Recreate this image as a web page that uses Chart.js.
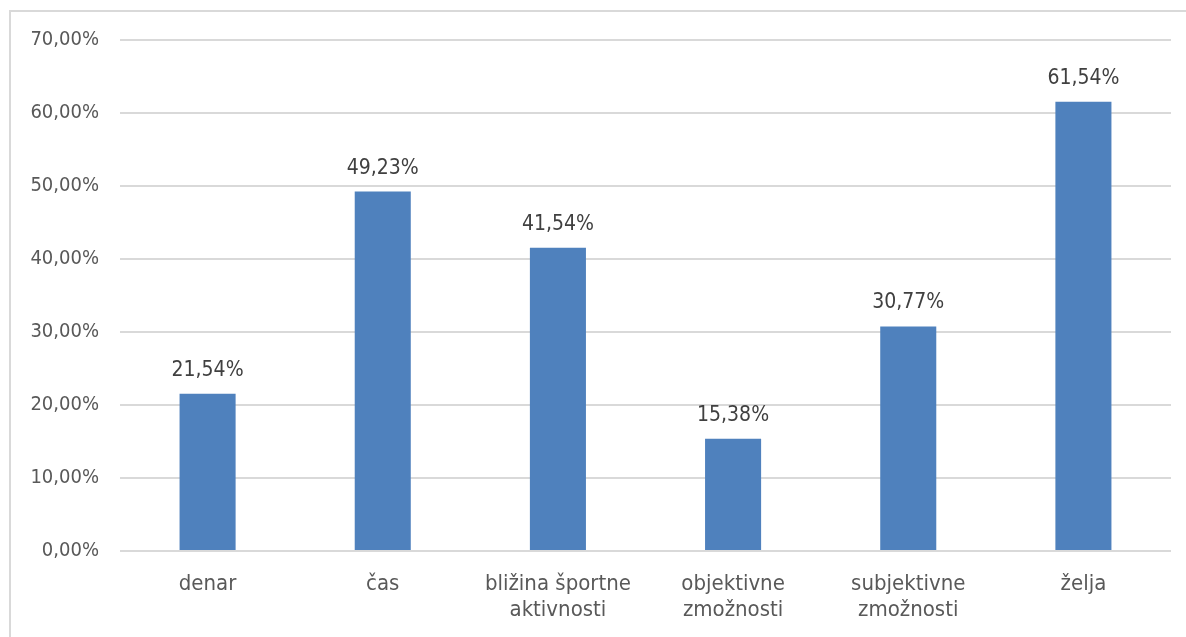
<!DOCTYPE html>
<html>
<head>
<meta charset="utf-8">
<script src="https://cdn.jsdelivr.net/npm/chart.js@4/dist/chart.umd.min.js"></script>
<style>
  html, body { margin: 0; padding: 0; background: #fff; overflow: hidden; width: 1186px; height: 637px; }
  #frame {
    position: absolute; left: 9px; top: 10px;
    width: 1177px; height: 627px;
    border-left: 2px solid #d9d9d9; border-top: 2px solid #d9d9d9;
    box-sizing: border-box;
  }
  #wrap { position: absolute; left: 0; top: 0; width: 1186px; height: 637px; }
</style>
</head>
<body>
<div id="frame"></div>
<div id="wrap"><canvas id="razlogi"></canvas></div>
<script>
const categories = [
  "denar",
  "čas",
  ["bližina športne", "aktivnosti"],
  ["objektivne", "zmožnosti"],
  ["subjektivne", "zmožnosti"],
  "želja"
];
const shares = [21.54, 49.23, 41.54, 15.38, 30.77, 61.54];
const yTicks = [0, 10, 20, 30, 40, 50, 60, 70];

const FONT = "'DejaVu Sans Condensed', 'DejaVu Sans'";

function fmtPct(v) {
  return v.toFixed(2).replace(".", ",") + "%";
}

// vrednosti nad stolpci
const valueLabels = {
  id: "valueLabels",
  afterDatasetsDraw(chart) {
    const ctx = chart.ctx;
    const meta = chart.getDatasetMeta(0);
    ctx.save();
    ctx.font = "21px " + FONT;
    ctx.fillStyle = "#404040";
    ctx.textAlign = "center";
    ctx.textBaseline = "alphabetic";
    meta.data.forEach((bar, i) => {
      ctx.fillText(fmtPct(shares[i]), bar.x, bar.y - 18);
    });
    ctx.restore();
  }
};

new Chart(document.getElementById("razlogi"), {
  type: "bar",
  data: {
    labels: categories,
    datasets: [{
      data: shares,
      backgroundColor: "#4f81bd",
      borderWidth: 0,
      barPercentage: 0.32,
      categoryPercentage: 1
    }]
  },
  options: {
    responsive: true,
    maintainAspectRatio: false,
    animation: false,
    layout: { padding: { left: 0, top: 40, right: 15, bottom: 0 } },
    plugins: {
      legend: { display: false },
      tooltip: { enabled: false }
    },
    scales: {
      x: {
        grid: { display: false },
        border: { display: false },
        ticks: {
          padding: 12,
          color: "#595959",
          font: { family: FONT, size: 22, lineHeight: 1.2 },
          maxRotation: 0
        },
        afterFit(scale) { scale.height = 86; }
      },
      y: {
        min: 0,
        max: 70,
        afterBuildTicks(scale) {
          scale.ticks = yTicks.map(v => ({ value: v }));
        },
        grid: { color: "#d9d9d9", lineWidth: 2, drawTicks: false },
        border: { display: false },
        ticks: {
          padding: 21,
          color: "#595959",
          font: { family: FONT, size: 20 },
          callback: v => fmtPct(v)
        },
        afterFit(scale) { scale.width = 120; }
      }
    }
  },
  plugins: [valueLabels]
});
</script>
</body>
</html>
